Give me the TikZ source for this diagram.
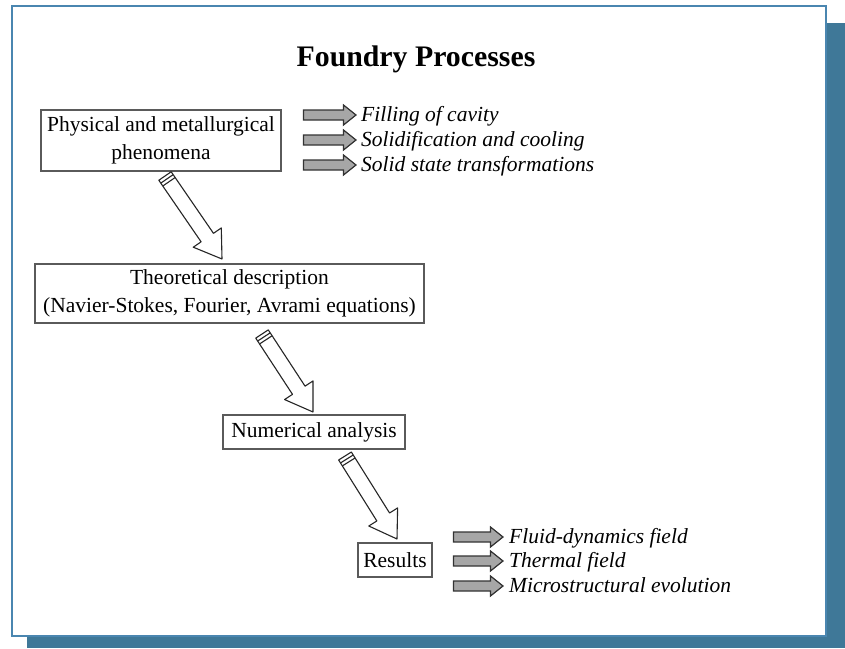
\documentclass[tikz,border=0pt]{standalone}
\usepackage{fontspec}
\setmainfont{Liberation Serif}
\usetikzlibrary{calc}
\definecolor{shadowblue}{HTML}{3F7898}
\definecolor{panelblue}{HTML}{4A86B0}
\definecolor{boxgray}{HTML}{5A5A5A}
\definecolor{arrowgray}{HTML}{A6A6A6}
\tikzset{
  procbox/.style={draw=boxgray, line width=1.2pt, fill=white, align=center, inner sep=0pt,
    font=\fontsize{21.5}{27.5}\selectfont},
  itemtext/.style={anchor=base west, inner sep=0pt, font=\fontsize{21.5}{25}\selectfont\itshape},
  hollowline/.style={draw=black!85, line width=1.1pt, fill=white, line join=round},
  grayline/.style={draw=black!80, line width=1.2pt, fill=arrowgray, line join=miter}
}
\newcommand\hollowarrow[2]{%
  \coordinate (hb) at ($(#2)!26pt!(#1)$);
  \coordinate (c1) at ($(#1)!3.5pt!(#2)$);
  \coordinate (c2) at ($(#1)!7pt!(#2)$);
  \filldraw[hollowline] ($(#1)!7.5pt!90:(#2)$) -- ($(hb)!7.5pt!90:(#2)$) -- ($(hb)!17pt!90:(#2)$) -- (#2)
     -- ($(hb)!17pt!-90:(#2)$) -- ($(hb)!7.5pt!-90:(#2)$) -- ($(#1)!7.5pt!-90:(#2)$) -- cycle;
  \draw[hollowline] ($(c1)!7.5pt!90:(#2)$) -- ($(c1)!7.5pt!-90:(#2)$);
  \draw[hollowline] ($(c2)!7.5pt!90:(#2)$) -- ($(c2)!7.5pt!-90:(#2)$);
}
% #1 = tip coordinate, #2 = body length
\newcommand\grayarrow[2]{%
  \filldraw[grayline] (#1) -- ++(-12.5,-10) -- ++(0,5) -- ++(-#2,0) -- ++(0,10) -- ++(#2,0) -- ++(0,5) -- cycle;
}
\begin{document}
\begin{tikzpicture}[x=1pt, y=-1pt]
\useasboundingbox (0,0) rectangle (845,648);
% shadow and panel
\fill[shadowblue] (27,23) rectangle (845,648);
\draw[panelblue, line width=1.2pt, fill=white] (12,6) rectangle (826,636);

% title
\node[anchor=base, inner sep=0pt, font=\fontsize{29.8}{32}\selectfont\bfseries] (title) at (416,66) {Foundry Processes};

% boxes
\node[procbox, minimum width=240pt, minimum height=61pt] (phys) at (161,140.5) {Physical and metallurgical\\phenomena};
\node[procbox, minimum width=389pt, minimum height=59pt] (theo) at (229.5,293.5) {Theoretical description\\(Navier-Stokes, Fourier, Avrami equations)};
\node[procbox, minimum width=182pt, minimum height=34pt] (num) at (314,432) {Numerical analysis};
\node[procbox, minimum width=74pt, minimum height=34pt] (res) at (395,560) {Results};

% hollow arrows between boxes
\coordinate (a1s) at (165,176);
\coordinate (a1e) at (222,259);
\coordinate (a2s) at (262,334);
\coordinate (a2e) at (313,412);
\coordinate (a3s) at (345,456);
\coordinate (a3e) at (397,539);
\hollowarrow{a1s}{a1e}
\hollowarrow{a2s}{a2e}
\hollowarrow{a3s}{a3e}

% phenomena list
\node[itemtext] (f1) at (361,121) {Filling of cavity};
\node[itemtext] (f2) at (361,146) {Solidification and cooling};
\node[itemtext] (f3) at (361,171) {Solid state transformations};
\coordinate (g1) at ($(f1.base west)+(-5,-6)$);
\coordinate (g2) at ($(f2.base west)+(-5,-6)$);
\coordinate (g3) at ($(f3.base west)+(-5,-6)$);
\grayarrow{g1}{40}
\grayarrow{g2}{40}
\grayarrow{g3}{40}

% results list
\node[itemtext] (r1) at (509,543) {Fluid-dynamics field};
\node[itemtext] (r2) at (509,567) {Thermal field};
\node[itemtext] (r3) at (509,592) {Microstructural evolution};
\coordinate (h1) at ($(r1.base west)+(-6,-6)$);
\coordinate (h2) at ($(r2.base west)+(-6,-6)$);
\coordinate (h3) at ($(r3.base west)+(-6,-6)$);
\grayarrow{h1}{37}
\grayarrow{h2}{37}
\grayarrow{h3}{37}
\end{tikzpicture}
\end{document}
